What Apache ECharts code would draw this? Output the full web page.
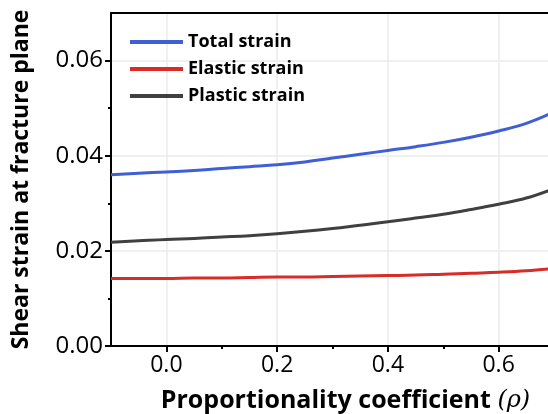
<!DOCTYPE html>
<html>
<head>
<meta charset="utf-8">
<script src="https://cdn.jsdelivr.net/npm/echarts@6/dist/echarts.min.js"></script>
<style>
  html, body { margin: 0; padding: 0; background: #fff; }
  #chart { width: 548px; height: 414px; }
</style>
</head>
<body>
<div id="chart"></div>
<script>
// proportionality coefficient rho
const rho = [-0.1, -0.05, 0.0, 0.05, 0.1, 0.15, 0.2, 0.25, 0.3, 0.35, 0.4, 0.45, 0.5, 0.55, 0.6, 0.65, 0.7];
const totalStrain   = [0.0360, 0.0363, 0.0366, 0.0369, 0.0373, 0.0377, 0.0381, 0.0387, 0.0395, 0.0403, 0.0411, 0.0419, 0.0428, 0.0439, 0.0452, 0.0468, 0.0492];
const elasticStrain = [0.0142, 0.0142, 0.0142, 0.0143, 0.0143, 0.0144, 0.0145, 0.0145, 0.0146, 0.0147, 0.0148, 0.0149, 0.0151, 0.0153, 0.0155, 0.0158, 0.0163];
const plasticStrain = [0.0218, 0.0221, 0.0224, 0.0226, 0.0229, 0.0232, 0.0236, 0.0241, 0.0247, 0.0254, 0.0261, 0.0269, 0.0277, 0.0287, 0.0298, 0.0311, 0.0331];

const xMajor = [0, 0.2, 0.4, 0.6];
const xMinor = [0.1, 0.3, 0.5];
const yMajor = [0, 0.02, 0.04, 0.06];
const yMinor = [0.01, 0.03, 0.05];

const font = '"Open Sans", "DejaVu Sans", sans-serif';
const axisColor = '#000';

const pairs = (ys) => rho.map((x, i) => [x, ys[i]]);

const chart = echarts.init(document.getElementById('chart'));

const line = (name, ys, color) => ({
    name: name,
    type: 'line',
    data: pairs(ys),
    smooth: 0.4,
    showSymbol: false,
    lineStyle: { color: color, width: 3 },
    itemStyle: { color: color },
    xAxisIndex: 0,
    yAxisIndex: 0
});

chart.setOption({
    animation: false,
    grid: { left: 111, right: -6, top: 13, bottom: 68, containLabel: false, outerBoundsMode: 'none' },
    legend: {
        orient: 'vertical',
        left: 130,
        top: 32,
        padding: 0,
        icon: 'rect',
        itemWidth: 53,
        itemHeight: 4,
        itemGap: 7,
        textStyle: { fontFamily: font, fontWeight: 'bold', fontSize: 18, color: '#000', lineHeight: 20 },
        data: ['Total strain', 'Elastic strain', 'Plastic strain']
    },
    xAxis: [
        {
            type: 'value',
            min: -0.1,
            max: 0.7,
            position: 'bottom',
            name: '{b|Proportionality coefficient }{i|(ρ)}',
            nameLocation: 'middle',
            nameGap: 42,
            nameTextStyle: {
                padding: [0, 0, 0, 26],
                rich: {
                    b: { fontFamily: font, fontWeight: 'bold', fontSize: 25, color: '#000' },
                    i: { fontFamily: '"DejaVu Serif", serif', fontStyle: 'italic', fontSize: 24, color: '#000' }
                }
            },
            axisLine: { onZero: false, lineStyle: { color: axisColor, width: 2 } },
            axisTick: { customValues: xMajor, length: 6, lineStyle: { color: axisColor, width: 2 } },
            axisLabel: {
                customValues: xMajor,
                margin: 8,
                fontFamily: font, fontSize: 23, color: '#000',
                formatter: (v) => v.toFixed(1)
            },
            splitLine: { show: true, lineStyle: { color: '#ebebeb', width: 1.5 } }
        },
        {
            type: 'value',
            min: -0.1,
            max: 0.7,
            position: 'top',
            axisLine: { show: true, onZero: false, lineStyle: { color: axisColor, width: 2 } },
            axisTick: { show: false },
            axisLabel: { show: false },
            splitLine: { show: false }
        },
        {
            type: 'value',
            min: -0.1,
            max: 0.7,
            position: 'bottom',
            axisLine: { show: false, onZero: false },
            axisTick: { customValues: xMinor, length: 3, lineStyle: { color: axisColor, width: 2 } },
            axisLabel: { show: false },
            splitLine: { show: false }
        }
    ],
    yAxis: [
        {
            type: 'value',
            min: 0,
            max: 0.07,
            position: 'left',
            name: 'Shear strain at fracture plane',
            nameLocation: 'middle',
            nameGap: 78,
            nameTextStyle: { fontFamily: font, fontWeight: 'bold', fontSize: 23, color: '#000' },
            axisLine: { show: true, onZero: false, lineStyle: { color: axisColor, width: 2 } },
            axisTick: { customValues: yMajor, length: 6, lineStyle: { color: axisColor, width: 2 } },
            axisLabel: {
                customValues: yMajor,
                margin: 8,
                fontFamily: font, fontSize: 24, color: '#000',
                formatter: (v) => v.toFixed(2)
            },
            splitLine: { show: true, lineStyle: { color: '#ebebeb', width: 1.5 } }
        },
        {
            type: 'value',
            min: 0,
            max: 0.07,
            position: 'left',
            axisLine: { show: false, onZero: false },
            axisTick: { customValues: yMinor, length: 3, lineStyle: { color: axisColor, width: 2 } },
            axisLabel: { show: false },
            splitLine: { show: false }
        }
    ],
    series: [
        line('Total strain', totalStrain, '#3f5fd4'),
        line('Elastic strain', elasticStrain, '#d92b27'),
        line('Plastic strain', plasticStrain, '#404040')
    ]
});
</script>
</body>
</html>
